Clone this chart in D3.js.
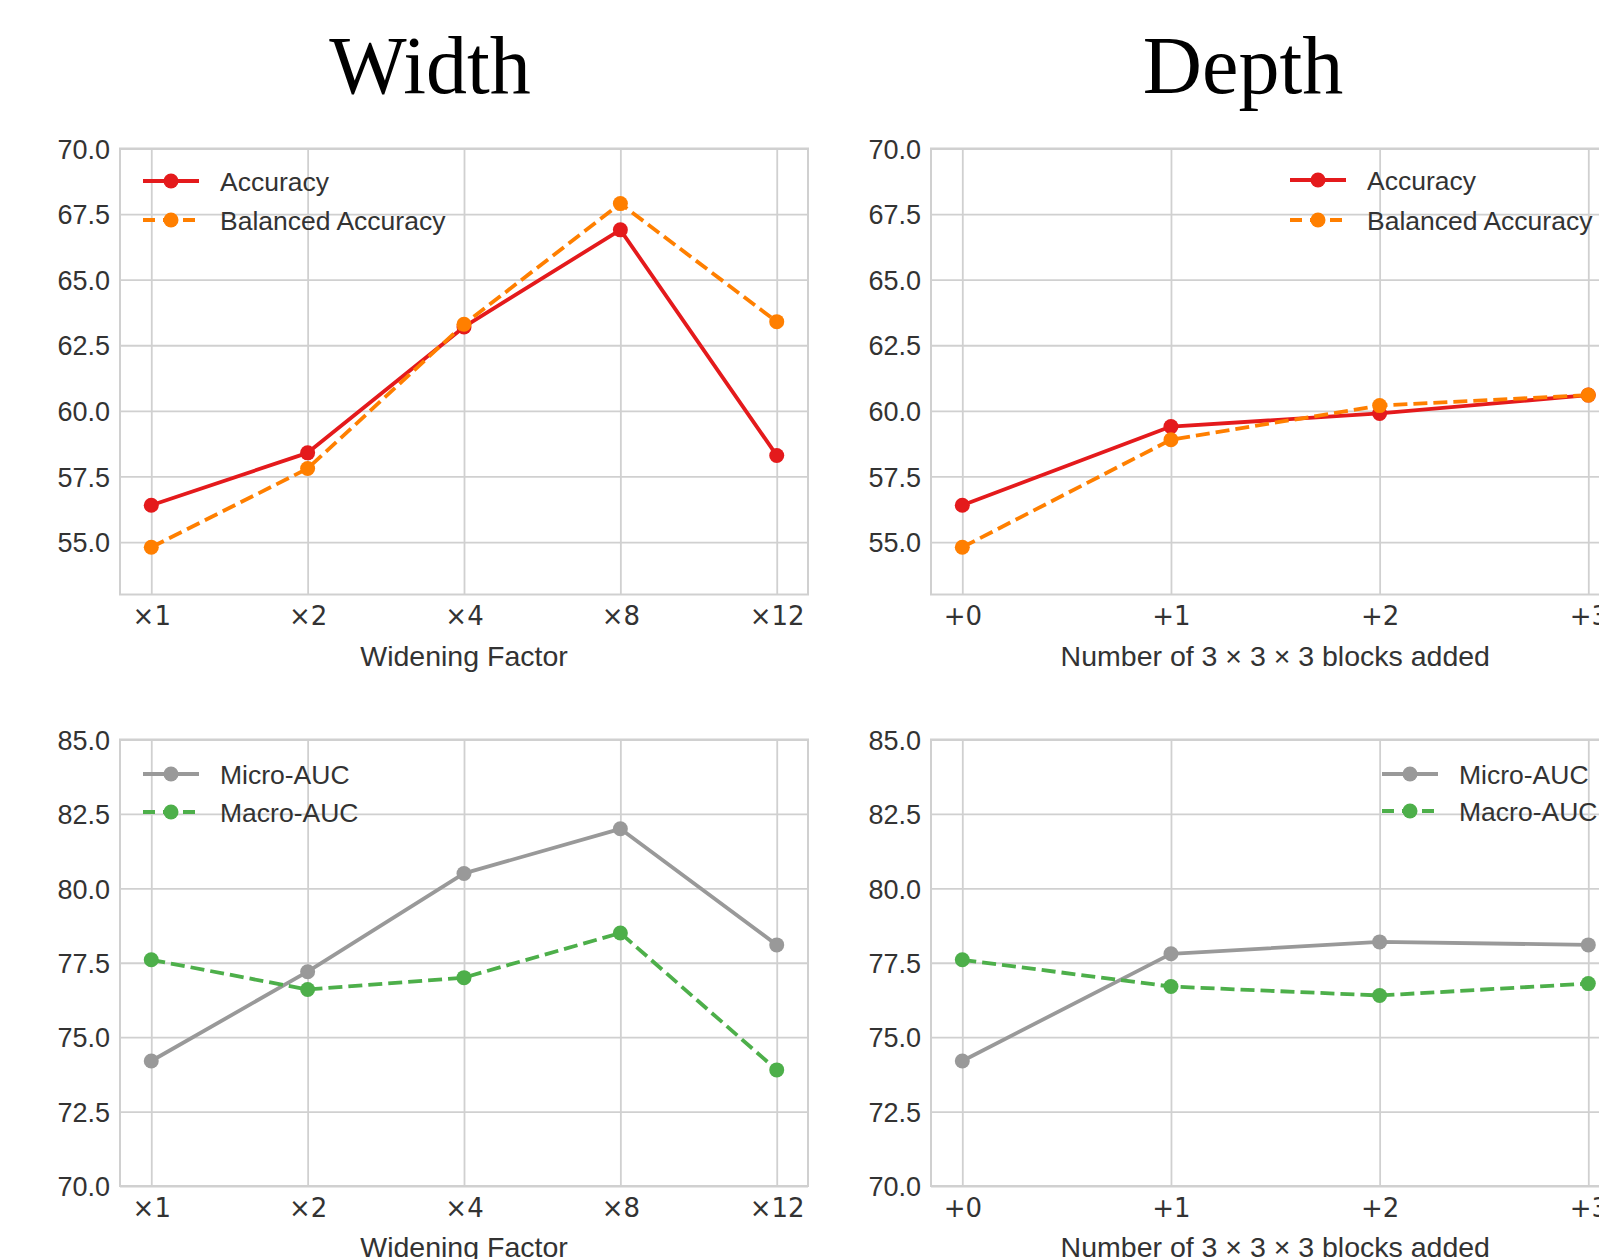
<!DOCTYPE html>
<html><head><meta charset="utf-8">
<script src="https://cdn.jsdelivr.net/npm/d3@7"></script>
<style>body{margin:0;background:#fff}svg{display:block}</style>
</head><body>
<script>
const widthCats = ["×1","×2","×4","×8","×12"];
const depthCats = ["+0","+1","+2","+3"];
const accTicks = [55.0,57.5,60.0,62.5,65.0,67.5,70.0];
const aucTicks = [70.0,72.5,75.0,77.5,80.0,82.5,85.0];
const widthAccuracy = [56.4,58.4,63.2,66.9,58.3];
const widthBalanced = [54.8,57.8,63.3,67.9,63.4];
const depthAccuracy = [56.4,59.4,59.9,60.6];
const depthBalanced = [54.8,58.9,60.2,60.6];
const widthMicro = [74.2,77.2,80.5,82.0,78.1];
const widthMacro = [77.6,76.6,77.0,78.5,73.9];
const depthMicro = [74.2,77.8,78.2,78.1];
const depthMacro = [77.6,76.7,76.4,76.8];

const W=1599,H=1259;
const svg=d3.select("body").append("svg").attr("width",W).attr("height",H);
svg.append("rect").attr("width",W).attr("height",H).attr("fill","#fff");
const TXT="#333333", GRID="#d0d0d0";
const SANS="'Liberation Sans', Arial, sans-serif";
const MATH="'DejaVu Sans', sans-serif";
const LW=3.8, R=7.5, DASH="14,6";

svg.append("text").attr("x",430).attr("y",93).attr("text-anchor","middle")
  .attr("font-family","'Liberation Serif', serif").attr("font-size",82).attr("fill","#000").text("Width");
svg.append("text").attr("x",1243).attr("y",93).attr("text-anchor","middle")
  .attr("font-family","'Liberation Serif', serif").attr("font-size",82).attr("fill","#000").text("Depth");

function panel(o){
  const g=svg.append("g");
  const n=o.cats.length, m=(n-1)*0.05;
  const x=d3.scaleLinear().domain([-m,n-1+m]).range([o.x0,o.x1]);
  const y=d3.scaleLinear().domain(o.ydom).range([o.y1,o.y0]);
  const yAxis=d3.axisLeft(y).tickValues(o.yticks).tickFormat(d3.format(".1f")).tickSize(-(o.x1-o.x0)).tickPadding(10);
  const ya=g.append("g").attr("transform",`translate(${o.x0},0)`).call(yAxis);
  ya.select(".domain").remove();
  ya.selectAll(".tick line").attr("stroke",GRID).attr("stroke-width",1.8);
  ya.selectAll(".tick text").attr("font-family",SANS).attr("font-size",27).attr("fill",TXT).attr("dy","0.36em");
  const xAxis=d3.axisBottom(x).tickValues(d3.range(n)).tickFormat(i=>o.cats[i]).tickSize(-(o.y1-o.y0)).tickPadding(12);
  const xa=g.append("g").attr("transform",`translate(0,${o.y1})`).call(xAxis);
  xa.select(".domain").remove();
  xa.selectAll(".tick line").attr("stroke",GRID).attr("stroke-width",1.8);
  xa.selectAll(".tick text").attr("font-family",MATH).attr("font-size",26).attr("fill",TXT).attr("dy","0.72em");
  g.append("rect").attr("x",o.x0).attr("y",o.y0).attr("width",o.x1-o.x0).attr("height",o.y1-o.y0)
    .attr("fill","none").attr("stroke",GRID).attr("stroke-width",2);
  g.append("text").attr("x",(o.x0+o.x1)/2).attr("y",o.y1+71).attr("text-anchor","middle")
    .attr("font-family",SANS).attr("font-size",28.5).attr("fill",TXT).text(o.label);
  const line=d3.line().x((d,i)=>x(i)).y(d=>y(d));
  o.series.forEach(s=>{
    g.append("path").datum(s.values).attr("d",line).attr("fill","none").attr("stroke",s.color)
      .attr("stroke-width",LW).attr("stroke-dasharray",s.dash?DASH:null).attr("stroke-linejoin","round");
    g.selectAll(null).data(s.values).enter().append("circle").attr("cx",(d,i)=>x(i)).attr("cy",d=>y(d))
      .attr("r",R).attr("fill",s.color);
  });
  o.series.forEach((s,k)=>{
    const ly=o.leg.y[k];
    g.append("line").attr("x1",o.leg.x).attr("x2",o.leg.x+56).attr("y1",ly).attr("y2",ly)
      .attr("stroke",s.color).attr("stroke-width",LW).attr("stroke-dasharray",s.dash?"12,8":null);
    g.append("circle").attr("cx",o.leg.x+28).attr("cy",ly).attr("r",R).attr("fill",s.color);
    g.append("text").attr("x",o.leg.x+77).attr("y",ly).attr("dy","0.36em").attr("font-family",SANS)
      .attr("font-size",26.5).attr("fill",TXT).text(s.name);
  });
}

const topY=[148.5,594.5], botY=[739.5,1186];
panel({cats:widthCats,x0:120,x1:808,y0:topY[0],y1:topY[1],ydom:[53,70],yticks:accTicks,label:"Widening Factor",
  series:[{name:"Accuracy",values:widthAccuracy,color:"#e41a1c",dash:false},{name:"Balanced Accuracy",values:widthBalanced,color:"#ff7f00",dash:true}],
  leg:{x:143,y:[181,220]}});
panel({cats:depthCats,x0:931,x1:1619.6,y0:topY[0],y1:topY[1],ydom:[53,70],yticks:accTicks,label:"Number of 3 × 3 × 3 blocks added",
  series:[{name:"Accuracy",values:depthAccuracy,color:"#e41a1c",dash:false},{name:"Balanced Accuracy",values:depthBalanced,color:"#ff7f00",dash:true}],
  leg:{x:1290,y:[180,220]}});
panel({cats:widthCats,x0:120,x1:808,y0:botY[0],y1:botY[1],ydom:[70,85],yticks:aucTicks,label:"Widening Factor",
  series:[{name:"Micro-AUC",values:widthMicro,color:"#999999",dash:false},{name:"Macro-AUC",values:widthMacro,color:"#4daf4a",dash:true}],
  leg:{x:143,y:[774,812]}});
panel({cats:depthCats,x0:931,x1:1619.6,y0:botY[0],y1:botY[1],ydom:[70,85],yticks:aucTicks,label:"Number of 3 × 3 × 3 blocks added",
  series:[{name:"Micro-AUC",values:depthMicro,color:"#999999",dash:false},{name:"Macro-AUC",values:depthMacro,color:"#4daf4a",dash:true}],
  leg:{x:1382,y:[774,811]}});
</script>
</body></html>
